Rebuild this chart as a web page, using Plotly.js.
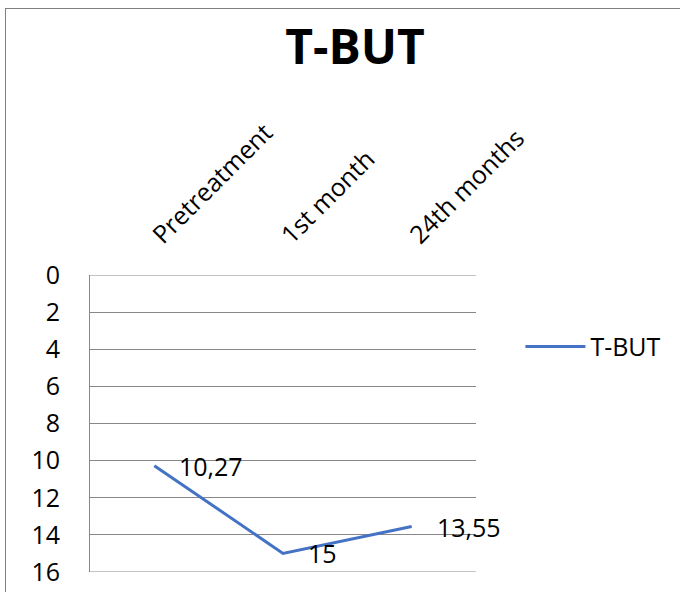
<!DOCTYPE html>
<html><head><meta charset="utf-8">
<script src="https://cdn.plot.ly/plotly-3.0.1.min.js"></script>
<style>
body{margin:0;padding:0;background:#fff;}
#chart{position:absolute;left:0;top:0;width:680px;height:592px;}
#frame{position:absolute;left:5px;top:8px;width:680px;height:600px;border:1px solid #808080;pointer-events:none;}
</style></head>
<body>
<div id="chart"></div>
<div id="frame"></div>
<script>
var categories = ["Pretreatment", "1st month", "24th months"];
var values = [10.27, 15, 13.55];
var labels = ["10,27", "15", "13,55"];
var seriesName = "T-BUT";
var yTicks = [0, 2, 4, 6, 8, 10, 12, 14, 16];

var fontFam = "Open Sans, Noto Sans, sans-serif";
var fs = 25;

var trace = {
  x: categories, y: values, name: seriesName,
  type: "scatter", mode: "lines",
  line: {color: "#4472C4", width: 3},
  hoverinfo: "skip"
};

var annotations = categories.map(function(c, i){
  return {x: c, y: values[i], xref: "x", yref: "y", text: labels[i],
    showarrow: false, xanchor: "left", yanchor: "middle", xshift: 23,
    font: {family: fontFam, size: fs, color: "#000"}};
});

var edgeLines = [yTicks[0], yTicks[yTicks.length - 1]].map(function(v){
  return {type: "line", xref: "paper", yref: "y", x0: 0, x1: 1, y0: v, y1: v,
    line: {color: "#888888", width: 1}, layer: "below"};
});

var layout = {
  width: 680, height: 592,
  margin: {l: 90, r: 204, t: 275, b: 20},
  paper_bgcolor: "rgba(0,0,0,0)", plot_bgcolor: "#fff",
  title: {text: "<b>T-BUT</b>", x: 0.522, xref: "container", xanchor: "center", y: 0.92, yref: "container", yanchor: "middle",
    font: {family: fontFam, size: 48, color: "#000"}},
  xaxis: {type: "category", side: "top", range: [-0.5, 2.5], tickangle: -45,
    showgrid: false, zeroline: false, showline: false, ticks: "",
    ticklabelstandoff: 20,
    tickfont: {family: fontFam, size: fs, color: "#000"}},
  yaxis: {autorange: false, range: [16, 0], tickvals: yTicks, ticktext: yTicks.map(String),
    showgrid: true, gridcolor: "#888888", gridwidth: 1, zeroline: false,
    showline: true, linecolor: "#888888", linewidth: 1, mirror: false, ticks: "",
    ticklabelstandoff: 24,
    tickfont: {family: fontFam, size: fs, color: "#000"}},
  showlegend: true,
  legend: {x: 1.115, xanchor: "left", y: 0.758, yanchor: "middle", itemwidth: 60,
    font: {family: fontFam, size: fs, color: "#000"}, bgcolor: "rgba(0,0,0,0)"},
  shapes: edgeLines,
  annotations: annotations
};

Plotly.newPlot("chart", [trace], layout, {displayModeBar: false, staticPlot: true});
</script>
</body></html>
